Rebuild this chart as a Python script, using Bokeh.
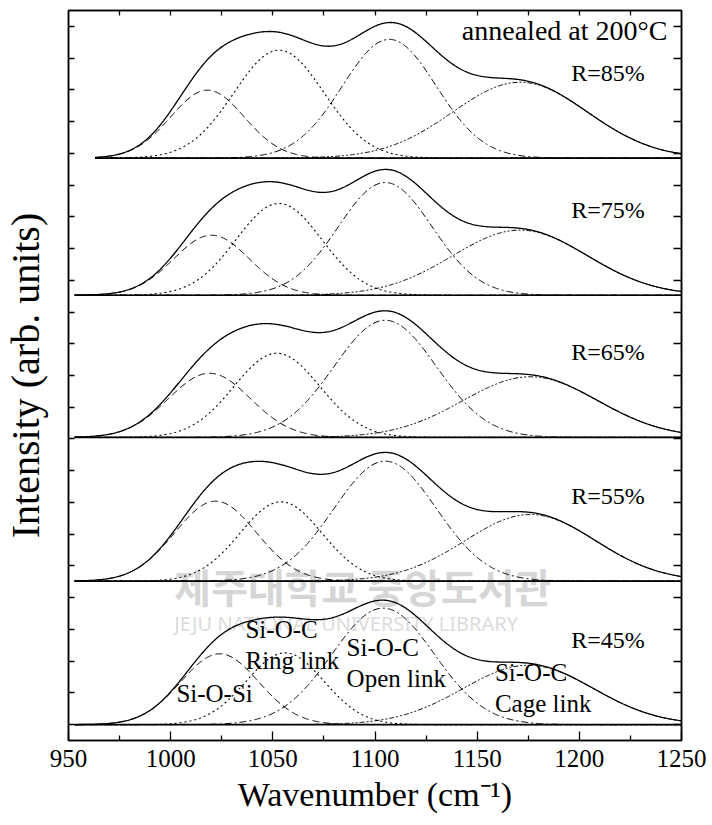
import numpy as np
from bokeh.plotting import figure
from bokeh.models import Range1d, LinearAxis, FixedTicker, Label, CustomLabelingPolicy
from bokeh.embed import file_html
from bokeh.resources import INLINE

# ---------------- data ----------------
panels = ["R=85%", "R=75%", "R=65%", "R=55%", "R=45%"]
offsets = [17.85, 13.53, 9.05, 4.52, 0.0]
x_start = [963, 953, 953, 953, 953]
x_end = 1250

# Gaussian components: centre (cm-1), height (arb. units), sigma (cm-1)
sios_c = [1018, 1020, 1019, 1022, 1024]
sios_h = [2.14, 1.89, 2.02, 2.52, 2.23]
sios_w = [18, 18.5, 20, 20, 19]

ring_c = [1053, 1053, 1052, 1054, 1056]
ring_h = [3.40, 2.89, 2.65, 2.50, 2.26]
ring_w = [22, 21, 21, 20, 19]

open_c = [1107, 1105, 1105, 1105, 1104]
open_h = [3.74, 3.55, 3.69, 3.78, 3.67]
open_w = [23, 23, 25, 25, 25]

cage_c = [1171, 1171, 1176, 1176, 1175]
cage_h = [2.39, 2.05, 1.91, 2.10, 1.87]
cage_w = [33, 33, 33, 32, 32]

x_ticks = [950, 1000, 1050, 1100, 1150, 1200, 1250]
x_minor = [975, 1025, 1075, 1125, 1175, 1225]
top_ticks = [975, 1000, 1025, 1050, 1075, 1100, 1125, 1150, 1175, 1200, 1225]
y_ticks = list(range(0, 23))

FONT = "Liberation Serif, Times New Roman, Times, serif"

p = figure(width=712, height=825,
           x_range=Range1d(950, 1250), y_range=Range1d(-0.5, 22.5),
           output_backend="svg", toolbar_location=None,
           min_border_left=67, min_border_right=31,
           min_border_top=10, min_border_bottom=85)
p.grid.visible = False
p.outline_line_color = "black"
p.outline_line_width = 1.5
p.background_fill_color = "white"
p.border_fill_color = "white"


def no_labels():
    return CustomLabelingPolicy(code="return new Set()")


# bottom axis
xa = p.xaxis[0]
xa.ticker = FixedTicker(ticks=x_ticks, minor_ticks=x_minor)
xa.major_tick_in = 9
xa.major_tick_out = 0
xa.minor_tick_in = 5
xa.minor_tick_out = 0
xa.axis_line_width = 1.5
xa.major_tick_line_width = 1.3
xa.minor_tick_line_width = 1.3
xa.major_label_text_font = FONT
xa.major_label_text_font_size = "25px"
xa.major_label_text_color = "black"
xa.major_label_standoff = 9
xa.axis_label = "Wavenumber (cm\u207b\u00b9)"
xa.axis_label_text_font = FONT
xa.axis_label_text_font_size = "34px"
xa.axis_label_text_font_style = "normal"
xa.axis_label_text_color = "black"
xa.axis_label_standoff = 6

# left axis
ya = p.yaxis[0]
ya.ticker = FixedTicker(ticks=y_ticks)
ya.major_tick_in = 6
ya.major_tick_out = 0
ya.minor_tick_line_color = None
ya.axis_line_width = 1.5
ya.major_tick_line_width = 1.3
ya.major_label_policy = no_labels()
ya.major_label_text_font_size = "1px"
ya.major_label_standoff = 0
ya.axis_label = "Intensity (arb. units)"
ya.axis_label_text_font = FONT
ya.axis_label_text_font_size = "40px"
ya.axis_label_text_font_style = "normal"
ya.axis_label_text_color = "black"
ya.axis_label_standoff = 16

# right axis (ticks only)
ra = LinearAxis(ticker=FixedTicker(ticks=y_ticks), major_tick_in=8, major_tick_out=0,
                minor_tick_line_color=None, major_label_policy=no_labels(),
                major_label_text_font_size="1px",
                major_label_standoff=0, axis_line_width=1.5, major_tick_line_width=1.3)
p.add_layout(ra, "right")

# top axis (ticks only)
ta = LinearAxis(ticker=FixedTicker(ticks=top_ticks), major_tick_in=5, major_tick_out=0,
                minor_tick_line_color=None, major_label_policy=no_labels(),
                major_label_text_font_size="1px",
                major_label_standoff=0, axis_line_width=1.5, major_tick_line_width=1.3)
p.add_layout(ta, "above")

# watermark of the scanned source
p.add_layout(Label(x=1001.8, y=3.45, text="제주대학교 중앙도서관", text_font="Noto Sans CJK KR",
                   text_font_size="40px", text_color="#c9c9c9", text_alpha=0.75,
                   text_font_style="bold", level="underlay"))
p.add_layout(Label(x=1001.8, y=2.75, text="JEJU NATIONAL UNIVERSITY LIBRARY", text_font="Noto Sans",
                   text_font_size="20px", text_color="#d2d2d2", text_alpha=0.8, level="underlay"))


def gauss(x, c, h, w):
    return h * np.exp(-(x - c) ** 2 / (2.0 * w ** 2))


styles = [
    dict(line_dash="7 4", line_width=1.0),
    dict(line_dash="2 3", line_width=1.1),
    dict(line_dash="7 3 2 3", line_width=1.0),
    dict(line_dash="5 2 2 2 2 2", line_width=1.0),
]

for i, name in enumerate(panels):
    off = offsets[i]
    x = np.arange(x_start[i], x_end + 0.01, 0.5)
    comps = [
        gauss(x, sios_c[i], sios_h[i], sios_w[i]),
        gauss(x, ring_c[i], ring_h[i], ring_w[i]),
        gauss(x, open_c[i], open_h[i], open_w[i]),
        gauss(x, cage_c[i], cage_h[i], cage_w[i]),
    ]
    p.line([x_start[i], x_end], [off, off], line_color="black", line_width=1.6)
    for comp, st in zip(comps, styles):
        p.line(x, off + comp, line_color="black", **st)
    p.line(x, off + sum(comps), line_color="black", line_width=1.3)
    p.add_layout(Label(x=1196, y=off + 2.27, text=name, text_font=FONT,
                       text_font_size="24px", text_color="black"))

p.add_layout(Label(x=1142.5, y=21.38, text="annealed at 200\u00b0C", text_font=FONT,
                   text_font_size="28px", text_color="black"))

# component names in the lowest panel
names = [("Si-O-Si", 1002.8, 0.54), ("Si-O-C", 1036.6, 2.56), ("Ring link", 1036.6, 1.60),
         ("Si-O-C", 1086.1, 2.00), ("Open link", 1086.1, 1.02),
         ("Si-O-C", 1158.7, 1.21), ("Cage link", 1158.7, 0.23)]
for t, xx, yy in names:
    p.add_layout(Label(x=xx, y=yy, text=t, text_font=FONT, text_font_size="25px",
                       text_color="black"))

open("out.html", "w").write(file_html(p, INLINE))
